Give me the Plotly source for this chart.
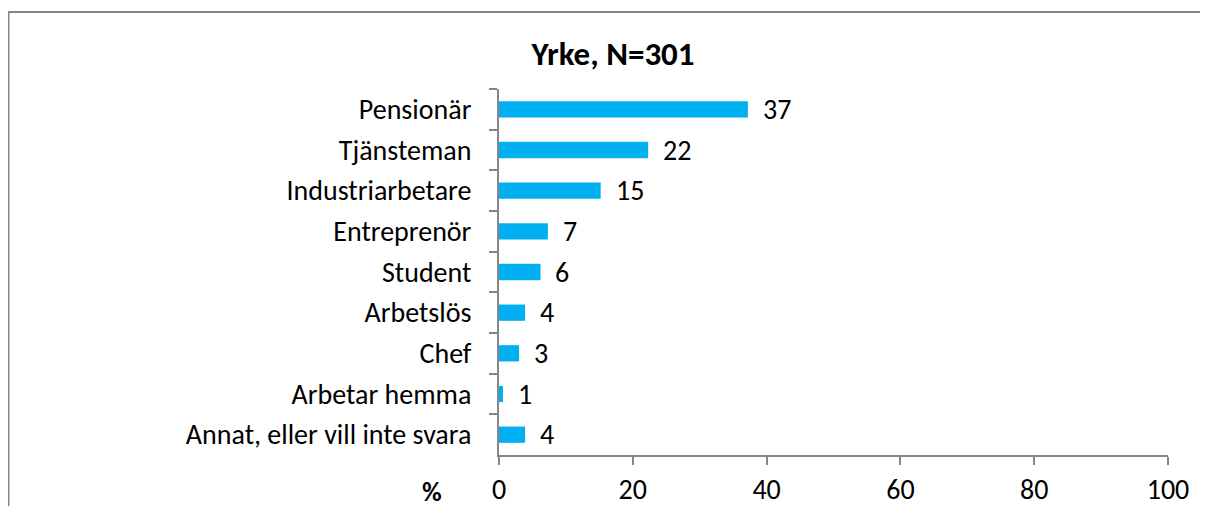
import plotly.graph_objects as go

categories = ["Pensionär", "Tjänsteman", "Industriarbetare", "Entreprenör", "Student",
              "Arbetslös", "Chef", "Arbetar hemma", "Annat, eller vill inte svara"]
values = [37.2, 22.3, 15.2, 7.3, 6.2, 3.9, 3.0, 0.6, 3.9]
value_labels = ["37", "22", "15", "7", "6", "4", "3", "1", "4"]
x_ticks = [0, 20, 40, 60, 80, 100]
title_text = "Yrke, N=301"
axis_unit = "%"

FONT = "Calibri, Carlito, Lato, sans-serif"
GRAY = "#868686"
OFF = 8  # page body margin offset

L, R_EDGE, T, B_EDGE = 499 - OFF, 1168 - OFF, 89 - OFF, 455 - OFF
W, H = 1208, 506
PW, PH = R_EDGE - L, B_EDGE - T

fig = go.Figure()
fig.add_trace(go.Bar(
    x=values, y=categories, orientation="h",
    marker=dict(color="#00B0F0", line=dict(width=0)),
    width=0.4, hoverinfo="skip",
))

annotations = []
for cat, v, lab in zip(categories, values, value_labels):
    annotations.append(dict(
        x=v, y=cat, xref="x", yref="y", text=lab, showarrow=False,
        xanchor="left", yanchor="middle", xshift=13,
        font=dict(family=FONT, size=28, color="#000000"),
    ))
annotations.append(dict(
    x=(432 - OFF - L) / PW, y=0, xref="paper", yref="paper",
    text="<b>" + axis_unit + "</b>", showarrow=False,
    xanchor="center", yanchor="middle", yshift=-36,
    font=dict(family=FONT, size=27, color="#000000"),
))

fig.update_layout(
    width=W, height=H,
    margin=dict(l=L, r=W - R_EDGE, t=T, b=H - B_EDGE, autoexpand=False),
    paper_bgcolor="white", plot_bgcolor="white",
    showlegend=False,
    title=dict(text="<b>" + title_text + "</b>", x=(613 - OFF) / W, xanchor="center",
               y=1 - (53 - OFF) / H, yanchor="middle", yref="container",
               font=dict(family=FONT, size=33, color="#000000")),
    xaxis=dict(range=[0, 100], tickvals=x_ticks, ticktext=[str(t) for t in x_ticks],
               showgrid=False, zeroline=False, showline=True, linecolor=GRAY, linewidth=2,
               ticks="outside", ticklen=8, tickwidth=2, tickcolor=GRAY,
               ticklabelstandoff=0, automargin=False,
               tickfont=dict(family=FONT, size=28, color="#000000"), fixedrange=True),
    yaxis=dict(autorange="reversed", showgrid=False, zeroline=False, showline=True,
               linecolor=GRAY, linewidth=2, ticks="outside", ticklen=8, tickwidth=2,
               tickcolor=GRAY, tickson="boundaries", ticklabelstandoff=20,
               automargin=False,
               tickfont=dict(family=FONT, size=28, color="#000000"), fixedrange=True),
    annotations=annotations,
    shapes=[dict(type="rect", xref="paper", yref="paper",
                 x0=(0.5 - L) / PW, x1=1.3, y0=-0.5, y1=(B_EDGE - (12 - OFF)) / PH,
                 line=dict(color=GRAY, width=2), fillcolor="rgba(0,0,0,0)", layer="below")],
)

fig.write_html("out.html")
